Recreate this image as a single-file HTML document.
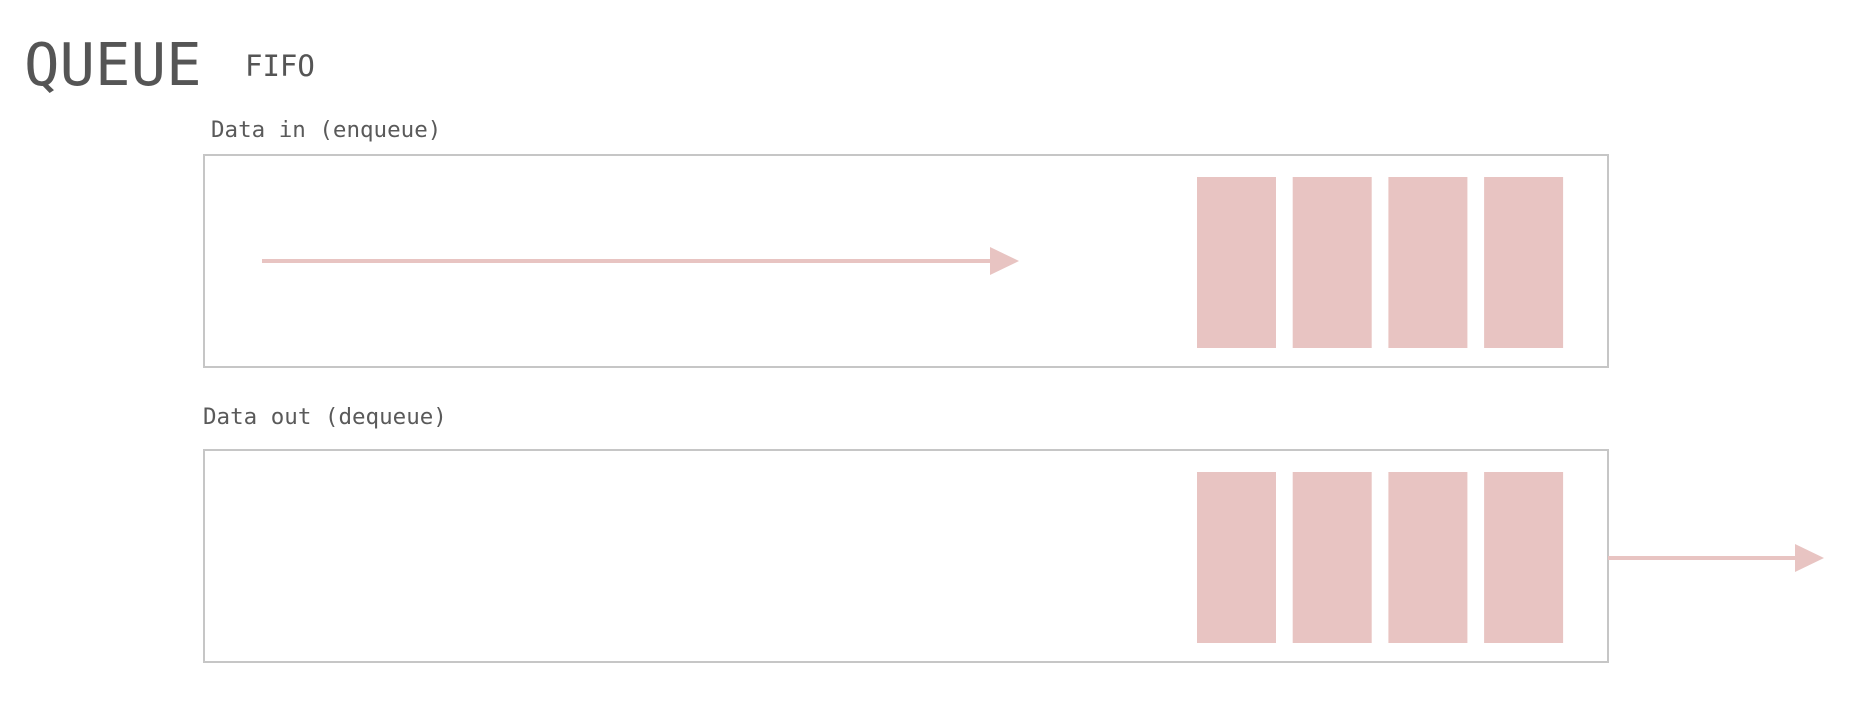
<!DOCTYPE html>
<html><head><meta charset="utf-8"><style>
body{margin:0;width:1854px;height:718px;background:#fff;overflow:hidden;}
svg{display:block}
</style></head><body>
<svg width="1854" height="718">
<text x="24" y="85" font-family="DejaVu Sans Mono, monospace" font-size="59" fill="#555">QUEUE</text>
<text x="245" y="76" font-family="DejaVu Sans Mono, monospace" font-size="29" fill="#555">FIFO</text>
<text x="211" y="137" font-family="DejaVu Sans Mono, monospace" font-size="22.5" fill="#5a5a5a">Data in (enqueue)</text>
<text x="203" y="424" font-family="DejaVu Sans Mono, monospace" font-size="22.5" fill="#5a5a5a">Data out (dequeue)</text>
<g id="boxes"></g>
</svg>
<script>
const panels=["enqueue","dequeue"];
const panelTops=[155,450];
const itemCounts=[4,4];
const g=document.getElementById('boxes');
const NS='http://www.w3.org/2000/svg';
function mk(t,a){const e=document.createElementNS(NS,t);for(const k in a)e.setAttribute(k,a[k]);g.appendChild(e);return e;}
panels.forEach((p,i)=>{
  const top=panelTops[i];
  const box=mk('rect',{x:204,y:top,width:1404,height:212,fill:'none',stroke:'#c6c6c6','stroke-width':2});
  
  
  for(let j=0;j<itemCounts[i];j++){
    const r=mk('rect',{x:1197+j*95.7,y:top+22,width:79,height:171,fill:'#e8c4c2'});
    
    
  }
});
const a1=mk('line',{x1:262,y1:261,x2:995,y2:261,stroke:'#e8c4c2','stroke-width':4});


const h1=mk('polygon',{points:'990,247 1019,261 990,275',fill:'#e8c4c2'});


const a2=mk('line',{x1:1608,y1:558,x2:1800,y2:558,stroke:'#e8c4c2','stroke-width':4});


const h2=mk('polygon',{points:'1795,544 1824,558 1795,572',fill:'#e8c4c2'});


</script>
</body></html>
